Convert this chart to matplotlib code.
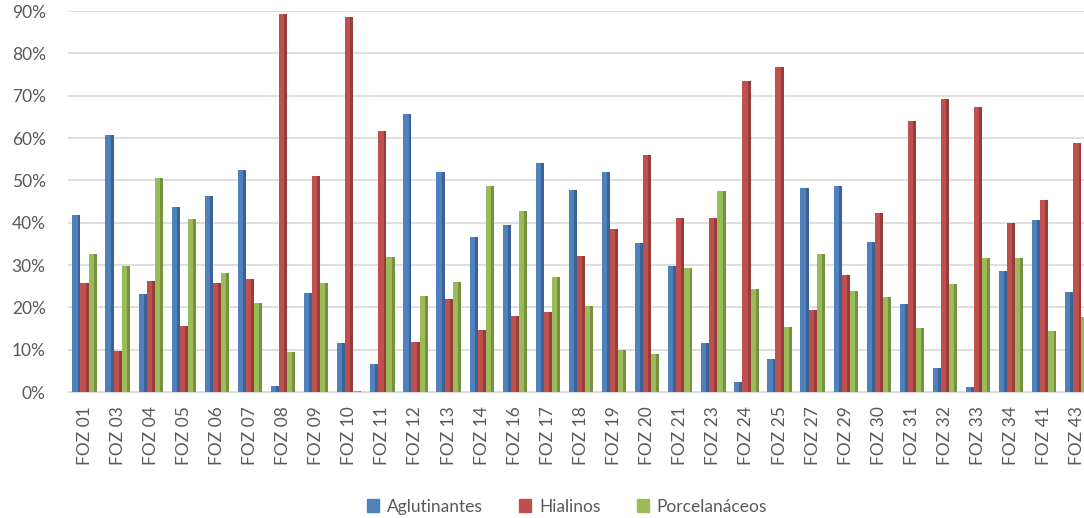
import matplotlib.pyplot as plt
import numpy as np
from matplotlib.ticker import PercentFormatter

plt.rcParams['font.family'] = ['Lato', 'DejaVu Sans']

amostras = ['FOZ 01', 'FOZ 03', 'FOZ 04', 'FOZ 05', 'FOZ 06', 'FOZ 07', 'FOZ 08',
            'FOZ 09', 'FOZ 10', 'FOZ 11', 'FOZ 12', 'FOZ 13', 'FOZ 14', 'FOZ 16',
            'FOZ 17', 'FOZ 18', 'FOZ 19', 'FOZ 20', 'FOZ 21', 'FOZ 23', 'FOZ 24',
            'FOZ 25', 'FOZ 27', 'FOZ 29', 'FOZ 30', 'FOZ 31', 'FOZ 32', 'FOZ 33',
            'FOZ 34', 'FOZ 41', 'FOZ 43']

aglutinantes = [41.8, 60.7, 23.1, 43.7, 46.3, 52.5, 1.4, 23.4, 11.5, 6.6,
                65.7, 52.0, 36.6, 39.5, 54.1, 47.8, 51.9, 35.3, 29.8, 11.5,
                2.4, 7.8, 48.2, 48.7, 35.5, 20.8, 5.7, 1.2, 28.6, 40.7, 23.6]
hialinos = [25.7, 9.7, 26.3, 15.6, 25.7, 26.7, 89.4, 51.0, 88.7, 61.7,
            11.8, 22.0, 14.7, 18.0, 19.0, 32.2, 38.5, 55.9, 41.2, 41.2,
            73.6, 76.9, 19.4, 27.7, 42.3, 64.1, 69.3, 67.4, 40.0, 45.4, 58.9]
porcelanaceos = [32.6, 29.8, 50.6, 41.0, 28.2, 21.1, 9.5, 25.7, 0.2, 32.0,
                 22.7, 26.0, 48.7, 42.8, 27.1, 20.4, 9.9, 9.0, 29.4, 47.5,
                 24.3, 15.4, 32.6, 23.9, 22.5, 15.1, 25.5, 31.7, 31.7, 14.4, 17.7]

series = [('Aglutinantes', aglutinantes, '#4F81BD', '#3A6294'),
          ('Hialinos', hialinos, '#C0504D', '#963C3A'),
          ('Porcelanáceos', porcelanaceos, '#9BBB59', '#76913F')]

fig = plt.figure(figsize=(10.84, 5.18), dpi=100)
ax = fig.add_axes([0.0627, 0.243, 0.9465, 0.7355])

x = np.arange(len(amostras))
w = 0.245
for i, (nome, vals, cor, sombra) in enumerate(series):
    pos = x + (i - 1) * w
    v = np.array(vals) / 100
    ax.bar(pos, v, width=w, color=cor, label=nome, zorder=3, linewidth=0)
    # darker side face to give the bars a shaded look
    ax.bar(pos + w * 0.32, v, width=w * 0.36, color=sombra, zorder=3, linewidth=0)

ax.set_xlim(-0.5, len(amostras) - 0.5)
ax.set_ylim(0, 0.9)
ax.set_yticks(np.arange(0, 0.91, 0.1))
ax.yaxis.set_major_formatter(PercentFormatter(1.0, decimals=0))
ax.set_xticks(x)
ax.set_xticklabels(amostras, rotation=90)
ax.grid(axis='y', color='#D9D9D9', linewidth=1.2, zorder=0)
for s in ['top', 'right', 'left']:
    ax.spines[s].set_visible(False)
ax.spines['bottom'].set_color('#D9D9D9')
ax.tick_params(axis='both', length=0, labelsize=12.5, labelcolor='#595959')
ax.tick_params(axis='x', pad=10)
ax.tick_params(axis='y', pad=16)

handles = [plt.Rectangle((0, 0), 1, 1, color=c) for _, _, c, _ in series]
fig.legend(handles, [s[0] for s in series], loc='center', bbox_to_anchor=(0.523, 0.022),
           ncol=3, frameon=False, fontsize=12.5, handlelength=0.7, handleheight=0.7,
           handletextpad=0.45, columnspacing=2.1, labelcolor='#595959')

fig.savefig('out.png', dpi=100)
